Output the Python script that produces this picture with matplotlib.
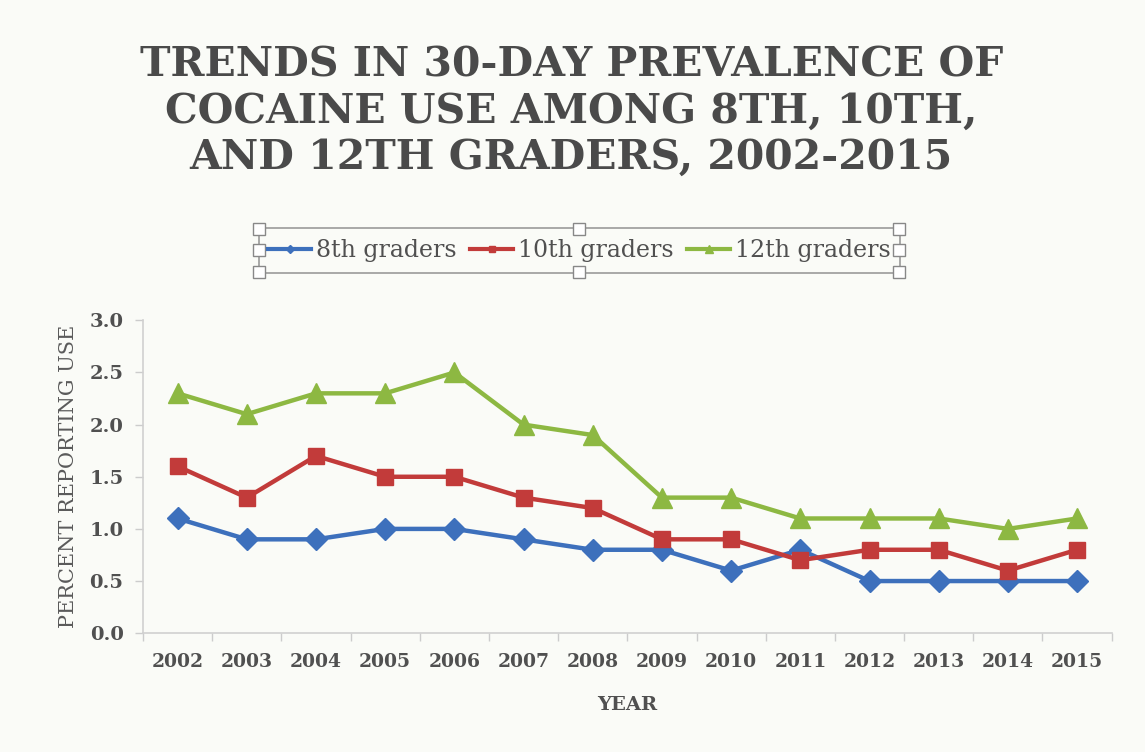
import matplotlib.pyplot as plt
from matplotlib.patches import Rectangle
import numpy as np

# data
years = ['2002', '2003', '2004', '2005', '2006', '2007', '2008',
         '2009', '2010', '2011', '2012', '2013', '2014', '2015']
grade8 = [1.1, 0.9, 0.9, 1.0, 1.0, 0.9, 0.8, 0.8, 0.6, 0.8, 0.5, 0.5, 0.5, 0.5]
grade10 = [1.6, 1.3, 1.7, 1.5, 1.5, 1.3, 1.2, 0.9, 0.9, 0.7, 0.8, 0.8, 0.6, 0.8]
grade12 = [2.3, 2.1, 2.3, 2.3, 2.5, 2.0, 1.9, 1.3, 1.3, 1.1, 1.1, 1.1, 1.0, 1.1]
series_names = ['8th graders', '10th graders', '12th graders']

bg = '#fafbf7'
txt = '#505050'
blue = '#3d70bc'
red = '#c23b3a'
green = '#8db842'

fig = plt.figure(figsize=(11.45, 7.52), dpi=100, facecolor=bg)
ax = fig.add_axes([0.1249, 0.158, 0.846, 0.416])
ax.set_facecolor(bg)

x = np.arange(len(years))
l1, = ax.plot(x, grade8, color=blue, lw=3.2, marker='D', ms=11,
              mfc=blue, mec=blue, label=series_names[0])
l2, = ax.plot(x, grade10, color=red, lw=3.2, marker='s', ms=12,
              mfc=red, mec=red, label=series_names[1])
l3, = ax.plot(x, grade12, color=green, lw=3.2, marker='^', ms=14,
              mfc=green, mec=green, label=series_names[2])

ax.set_xlim(-0.5, len(years) - 0.5)
ax.set_ylim(0, 3.0)
ax.set_yticks(np.arange(0, 3.01, 0.5))
ax.set_yticklabels([f'{v:.1f}' for v in np.arange(0, 3.01, 0.5)])
ax.set_xticks(x)
ax.set_xticklabels(years)
ax.set_xticks(np.arange(-0.5, len(years)), minor=True)
ax.tick_params(axis='x', which='major', length=0, pad=14)
ax.tick_params(axis='x', which='minor', length=6, color='#cccccc', width=1)
ax.tick_params(axis='y', length=6, color='#cccccc', width=1, pad=8)

for lab in ax.get_xticklabels():
    lab.set_fontfamily('DejaVu Serif')
    lab.set_fontweight('bold')
    lab.set_fontsize(13.5)
    lab.set_color(txt)
for lab in ax.get_yticklabels():
    lab.set_fontfamily('DejaVu Serif')
    lab.set_fontweight('bold')
    lab.set_fontsize(14)
    lab.set_color(txt)

for s in ['top', 'right']:
    ax.spines[s].set_visible(False)
for s in ['left', 'bottom']:
    ax.spines[s].set_color('#d0d0d0')
    ax.spines[s].set_linewidth(1.2)

ax.set_ylabel('PERCENT REPORTING USE', family='DejaVu Serif', fontsize=15,
              color='#5a5a5a', labelpad=8)
ax.set_xlabel('YEAR', family='DejaVu Serif', fontsize=14, fontweight='bold',
              color=txt, labelpad=18)

fig.text(0.499, 0.764,
         'TRENDS IN 30-DAY PREVALENCE OF\nCOCAINE USE AMONG 8TH, 10TH,\nAND 12TH GRADERS, 2002-2015',
         ha='center', va='bottom', family='DejaVu Serif', fontweight='bold',
         fontsize=29.5, color='#4a4a4a', linespacing=1.2)

leg = fig.legend(handles=[l1, l2, l3], loc='center', bbox_to_anchor=(0.506, 0.667),
                 ncol=3, frameon=False, prop={'family': 'DejaVu Serif', 'size': 17},
                 handlelength=1.8, handletextpad=0.2, columnspacing=0.6,
                 markerscale=0.4)
for t in leg.get_texts():
    t.set_color(txt)
for h in leg.legend_handles:
    h.set_linewidth(3)

# selection frame around the legend, as in the screenshot
W, H = 1145, 752
def fx(px):
    return px / W
def fy(py):
    return 1 - py / H
fig.add_artist(Rectangle((fx(259), fy(273)), fx(900) - fx(259), fy(228) - fy(273),
                         transform=fig.transFigure, fill=False, ec='#9a9a9a', lw=1.2))
for hx in (259, 579, 899):
    for hy in (229, 250, 272):
        if hx == 579 and hy == 250:
            continue
        fig.add_artist(Rectangle((fx(hx - 6), fy(hy + 6)), fx(12), 12 / H,
                                 transform=fig.transFigure, fc='white',
                                 ec='#888888', lw=1))

fig.savefig('out.png', dpi=100, facecolor=bg)
